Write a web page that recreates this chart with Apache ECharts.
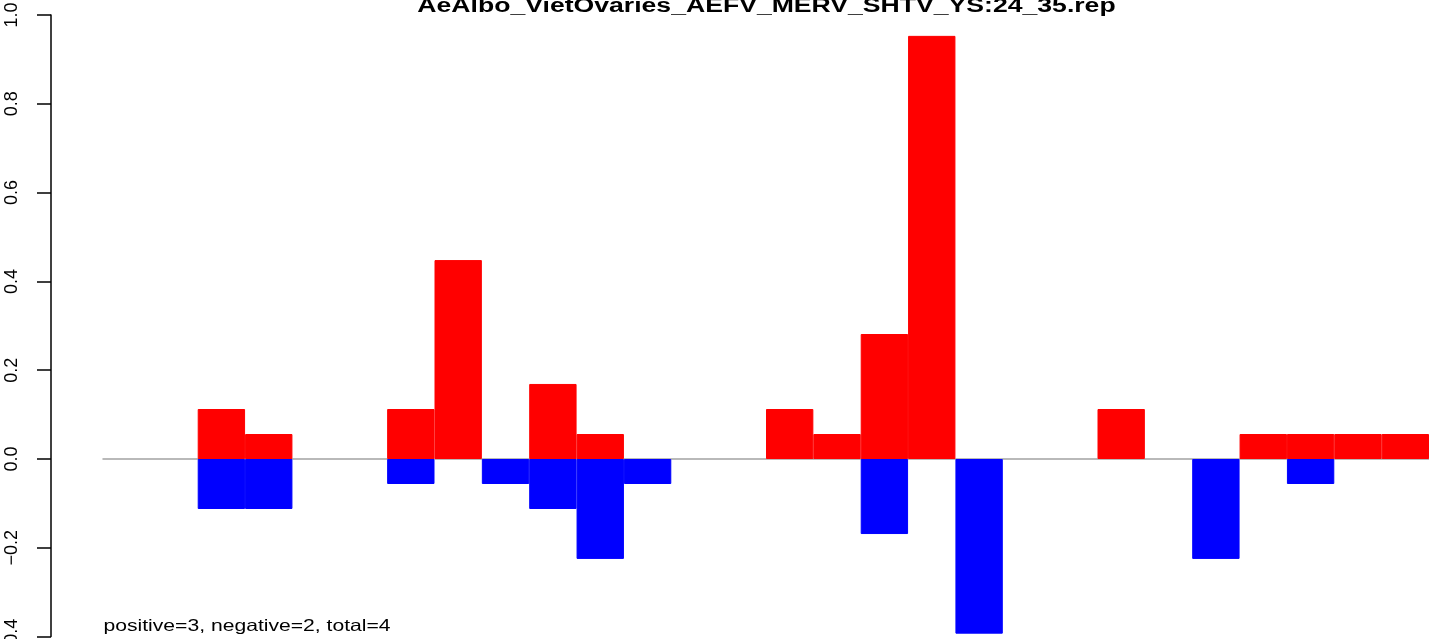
<!DOCTYPE html>
<html>
<head>
<meta charset="utf-8">
<script src="https://cdn.jsdelivr.net/npm/echarts@6/dist/echarts.min.js"></script>
<style>
html,body{margin:0;padding:0;background:#fff;}
#chart{width:1429px;height:639px;}
</style>
</head>
<body>
<div id="chart"></div>
<script>
// ---- data ----
var titleText = "AeAlbo_VietOvaries_AEFV_MERV_SHTV_YS:24_35.rep";
var noteText = "positive=3, negative=2, total=4";
var categories = [];
for (var i = 1; i <= 28; i++) categories.push(String(i));
var positiveValues = [0, 0, 0.1126, 0.0563, 0, 0, 0.1126, 0.448, 0, 0.169, 0.0563, 0, 0, 0,
                      0.1126, 0.0563, 0.2815, 0.953, 0, 0, 0, 0.1126, 0, 0, 0.0563, 0.0563, 0.0563, 0.0563];
var negativeValues = [0, 0, -0.1126, -0.1126, 0, 0, -0.0563, 0, -0.0563, -0.1126, -0.225, -0.0563, 0, 0,
                      0, 0, -0.169, 0, -0.3934, 0, 0, 0, 0, -0.225, 0, -0.0563, 0, 0];
var yTicks = [-0.4, -0.2, 0.0, 0.2, 0.4, 0.6, 0.8, 1.0];

function noZero(arr) { return arr.map(function (v) { return v === 0 ? '-' : v; }); }

var chart = echarts.init(document.getElementById('chart'), null, {renderer: 'canvas'});
var option = {
  animation: false,
  backgroundColor: '#ffffff',
  grid: {left: 103, right: 0, top: 15, bottom: 2.4, containLabel: false, outerBoundsMode: 'none'},
  xAxis: {
    type: 'category',
    data: categories,
    boundaryGap: true,
    axisLine: {show: true, onZero: true, lineStyle: {color: '#a3a3a3', width: 1.5}},
    axisTick: {show: false},
    axisLabel: {show: false},
    splitLine: {show: false}
  },
  yAxis: {
    type: 'value',
    min: yTicks[0],
    max: yTicks[yTicks.length - 1],
    interval: 0.2,
    offset: 52,
    axisLine: {show: true, lineStyle: {color: '#000', width: 1.5}},
    axisTick: {show: true, length: 14, lineStyle: {color: '#000', width: 1.5}},
    splitLine: {show: false},
    axisLabel: {
      show: true,
      rotate: 90,
      margin: 30,
      color: '#000',
      fontSize: 18,
      fontFamily: 'Liberation Sans, Arial, sans-serif',
      showMinLabel: true,
      showMaxLabel: true,
      hideOverlap: false,
      formatter: function (v) { return v.toFixed(1).replace('-', '\u2212'); }
    }
  },
  series: [
    {
      type: 'bar', name: 'positive', data: noZero(positiveValues),
      barWidth: '100%', barGap: '-100%',
      itemStyle: {color: '#ff0000', borderColor: '#ff0000', borderWidth: 1}
    },
    {
      type: 'bar', name: 'negative', data: noZero(negativeValues),
      barWidth: '100%', barGap: '-100%',
      itemStyle: {color: '#0000ff', borderColor: '#0000ff', borderWidth: 1}
    }
  ],
  graphic: [
    {
      type: 'text', x: 766.5, y: 6, scaleX: 1.33, scaleY: 1,
      style: {text: titleText, fill: '#000', font: 'bold 20px "Liberation Sans", Arial, sans-serif',
              textAlign: 'center', textVerticalAlign: 'middle'}
    },
    {
      type: 'text', x: 103.5, y: 626.5, scaleX: 1.28, scaleY: 1,
      style: {text: noteText, fill: '#000', font: '16.5px "Liberation Sans", Arial, sans-serif',
              textAlign: 'left', textVerticalAlign: 'middle'}
    }
  ]
};
chart.setOption(option);
</script>
</body>
</html>
